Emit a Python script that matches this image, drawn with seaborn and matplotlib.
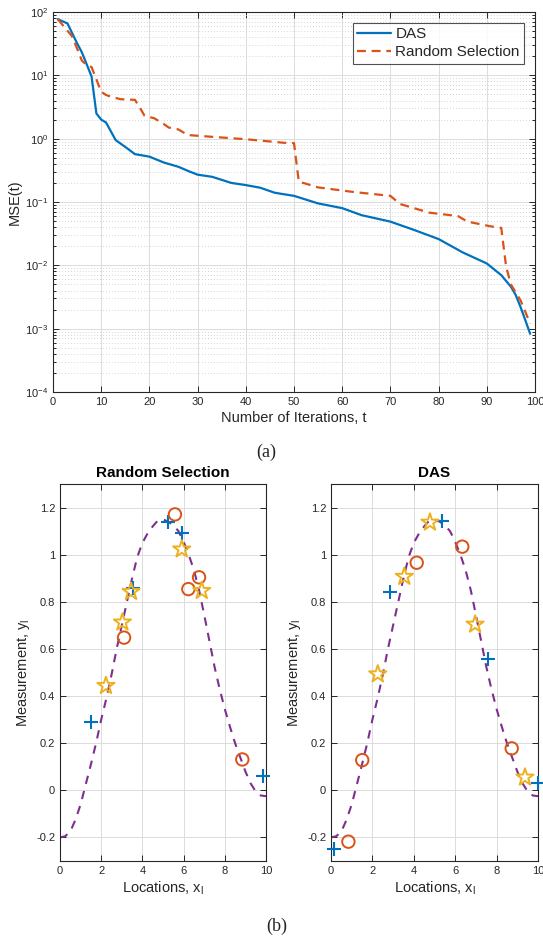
import numpy as np
import pandas as pd
import matplotlib
matplotlib.use("Agg")
import matplotlib.pyplot as plt
import matplotlib.ticker as mticker
import seaborn as sns

# ---------------- data ----------------
das_t = [1, 3, 5, 6, 8, 9, 10, 11, 13, 15, 17, 20, 23, 26, 28, 30, 33, 37, 40, 43,
         46, 50, 55, 60, 64, 70, 75, 80, 85, 90, 93, 95, 96, 97, 99]
das_mse = [77, 66, 32, 23, 9.6, 2.5, 2.0, 1.8, 0.95, 0.74, 0.57, 0.52, 0.42, 0.36, 0.31,
           0.27, 0.25, 0.20, 0.185, 0.168, 0.14, 0.125, 0.095, 0.08, 0.062, 0.049, 0.036,
           0.026, 0.016, 0.0107, 0.0070, 0.0046, 0.0034, 0.0022, 0.00083]

rand_t = [1, 4, 6, 7, 8, 10, 11, 12, 14, 17, 18, 19, 21, 23, 24, 26, 28, 33, 40, 48,
          50, 51, 55, 62, 70, 72, 78, 84, 86, 91, 93, 94, 95, 97, 99]
rand_mse = [77, 41, 17, 14.5, 13.5, 5.5, 4.9, 4.6, 4.2, 4.1, 3.1, 2.3, 2.1, 1.7, 1.5,
            1.4, 1.14, 1.07, 0.98, 0.86, 0.85, 0.21, 0.17, 0.145, 0.125, 0.093, 0.068,
            0.060, 0.049, 0.041, 0.039, 0.0096, 0.005, 0.0028, 0.0012]

curve_x = [0, 0.25, 0.5, 0.75, 1.0, 1.25, 1.5, 1.75, 2.0, 2.25, 2.5, 2.75, 3.0, 3.25,
           3.5, 3.75, 4.0, 4.25, 4.5, 4.75, 5.0, 5.25, 5.5, 5.75, 6.0, 6.25, 6.5, 6.75,
           7.0, 7.25, 7.5, 7.75, 8.0, 8.25, 8.5, 8.75, 9.0, 9.25, 9.5, 9.75, 10.0]
curve_y = [-0.20, -0.195, -0.175, -0.125, -0.06, 0.025, 0.11, 0.20, 0.30, 0.39, 0.49,
           0.60, 0.70, 0.80, 0.90, 0.99, 1.05, 1.09, 1.12, 1.145, 1.15, 1.14, 1.125, 1.10,
           1.055, 1.0, 0.935, 0.85, 0.745, 0.635, 0.525, 0.43, 0.345, 0.27, 0.20, 0.14,
           0.08, 0.03, -0.005, -0.022, -0.025]

rs_plus_x = [1.49, 3.56, 5.26, 5.91, 9.84]
rs_plus_y = [0.288, 0.857, 1.14, 1.093, 0.062]
rs_circle_x = [3.11, 5.58, 6.23, 6.75, 8.85]
rs_circle_y = [0.648, 1.171, 0.854, 0.904, 0.131]
rs_star_x = [2.23, 3.03, 3.45, 5.91, 6.88]
rs_star_y = [0.444, 0.713, 0.843, 1.023, 0.847]

das_plus_x = [0.16, 2.85, 5.35, 7.60, 10.0]
das_plus_y = [-0.249, 0.84, 1.143, 0.556, 0.03]
das_circle_x = [0.84, 1.51, 4.14, 6.34, 8.73]
das_circle_y = [-0.218, 0.128, 0.966, 1.034, 0.178]
das_star_x = [2.26, 3.54, 4.78, 6.96, 9.37]
das_star_y = [0.493, 0.907, 1.137, 0.704, 0.055]

# ---------------- style ----------------
sns.set_theme(style="white")
plt.rcParams['font.family'] = ['Liberation Sans', 'DejaVu Sans']
plt.rcParams['mathtext.fontset'] = 'custom'
plt.rcParams['mathtext.rm'] = 'Liberation Sans'
plt.rcParams['mathtext.it'] = 'Liberation Sans'

AX = '#262626'
BLUE = '#0072BD'
ORANGE = '#D95319'
YELLOW = '#EDB120'
PURPLE = '#7E2F8E'

W, H = 543, 942
fig = plt.figure(figsize=(W / 100, H / 100), dpi=100)


def rect(l, t, r, b):
    return [l / W, 1 - b / H, (r - l) / W, (b - t) / H]


def style_axes(ax):
    for s in ax.spines.values():
        s.set_color(AX)
        s.set_linewidth(0.8)
        s.set_visible(True)
    ax.tick_params(which='both', direction='in', top=True, right=True,
                   bottom=True, left=True, colors=AX, labelsize=8, width=0.7)
    ax.tick_params(which='major', length=4)
    ax.tick_params(which='minor', length=2)


# ---------------- top plot ----------------
ax1 = fig.add_axes(rect(53, 12, 535, 392))
df_das = pd.DataFrame({'t': das_t, 'mse': das_mse})
df_rand = pd.DataFrame({'t': rand_t, 'mse': rand_mse})
sns.lineplot(data=df_das, x='t', y='mse', ax=ax1, color=BLUE, lw=1.6, label='DAS')
sns.lineplot(data=df_rand, x='t', y='mse', ax=ax1, color=ORANGE, lw=1.6,
             linestyle=(0, (4, 2.6)), label='Random Selection')
ax1.set_yscale('log')
ax1.set_ylim(1e-4, 1e2)
ax1.set_xlim(0, 100)
ax1.set_xticks(np.arange(0, 101, 10))
ax1.yaxis.set_major_locator(mticker.LogLocator(base=10, numticks=10))
ax1.yaxis.set_minor_locator(mticker.LogLocator(base=10, subs=np.arange(2, 10), numticks=20))
ax1.yaxis.set_minor_formatter(mticker.NullFormatter())
ax1.grid(which='major', color='#dcdcdc', lw=0.7)
ax1.grid(which='minor', axis='y', color='#c8c8c8', lw=0.6, linestyle=(0, (1, 2.5)))
ax1.set_axisbelow(True)
style_axes(ax1)
ax1.set_xlabel('Number of Iterations, t', fontsize=10.5, color=AX, labelpad=3)
ax1.set_ylabel('MSE(t)', fontsize=10.5, color=AX, labelpad=2)
leg = ax1.legend(loc='upper right', fontsize=11, frameon=True, fancybox=False,
                 edgecolor=AX, handlelength=2.2, borderpad=0.3, labelspacing=0.25,
                 handletextpad=0.3, borderaxespad=0.7)
leg.get_frame().set_linewidth(0.8)

fig.text(266 / W, 1 - 452 / H, '(a)', ha='center', va='center', fontsize=13,
         family=['Liberation Serif', 'DejaVu Serif'])


# ---------------- bottom plots ----------------
def panel(ax, title, px, py, cx, cy, sx, sy):
    dfc = pd.DataFrame({'x': curve_x, 'y': curve_y})
    sns.lineplot(data=dfc, x='x', y='y', ax=ax, color=PURPLE, lw=1.5,
                 linestyle=(0, (4, 3.5)), zorder=2)
    sns.scatterplot(x=px, y=py, ax=ax, marker='+', s=90, color=BLUE,
                    linewidth=1.5, zorder=3, clip_on=False)
    sns.scatterplot(x=cx, y=cy, ax=ax, marker='o', s=80, facecolor='none',
                    edgecolor=ORANGE, linewidth=1.4, zorder=3, clip_on=False)
    sns.scatterplot(x=sx, y=sy, ax=ax, marker='*', s=170, facecolor='none',
                    edgecolor=YELLOW, linewidth=1.4, zorder=4, clip_on=False)
    ax.set_xlim(0, 10)
    ax.set_ylim(-0.3, 1.3)
    ax.set_xticks(np.arange(0, 11, 2))
    yt = [-0.2, 0, 0.2, 0.4, 0.6, 0.8, 1.0, 1.2]
    ax.set_yticks(yt)
    ax.set_yticklabels(['-0.2', '0', '0.2', '0.4', '0.6', '0.8', '1', '1.2'])
    ax.grid(which='major', color='#dcdcdc', lw=0.7)
    ax.set_axisbelow(True)
    style_axes(ax)
    ax.set_title(title, fontsize=11, fontweight='bold', color='black', pad=5)
    ax.set_xlabel(r'Locations, x$_{\mathregular{l}}$', fontsize=10.5, color=AX, labelpad=3)
    ax.set_ylabel(r'Measurement, y$_{\mathregular{l}}$', fontsize=10.5, color=AX, labelpad=3)


ax2 = fig.add_axes(rect(60, 484, 266, 861))
panel(ax2, 'Random Selection', rs_plus_x, rs_plus_y, rs_circle_x, rs_circle_y,
      rs_star_x, rs_star_y)
ax3 = fig.add_axes(rect(331, 484, 538, 861))
panel(ax3, 'DAS', das_plus_x, das_plus_y, das_circle_x, das_circle_y,
      das_star_x, das_star_y)

fig.text(277 / W, 1 - 926 / H, '(b)', ha='center', va='center', fontsize=13,
         family=['Liberation Serif', 'DejaVu Serif'])

fig.savefig('out.png', dpi=100)
